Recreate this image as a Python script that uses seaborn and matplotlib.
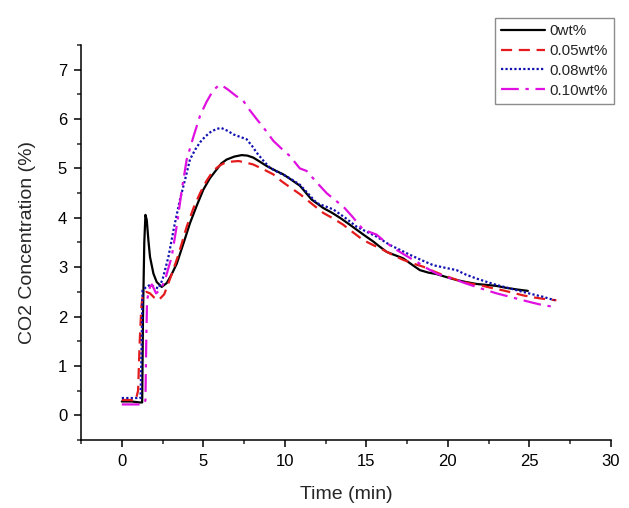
import matplotlib
matplotlib.use("Agg")
import matplotlib.pyplot as plt
import seaborn as sns
import pandas as pd
from matplotlib.ticker import MultipleLocator

sns.set_theme(style="ticks")
plt.rcParams['font.family'] = ['Liberation Sans', 'DejaVu Sans']

labels = ["0wt%", "0.05wt%", "0.08wt%", "0.10wt%"]

t_0 = [0, 0.6, 1.1, 1.25, 1.3, 1.38, 1.45, 1.53, 1.63, 1.73, 1.94, 2.14, 2.45, 2.76, 3.05, 3.37,
       3.8, 4.18, 4.6, 5.0, 5.4, 5.82, 6.1, 6.43, 6.9, 7.35, 7.7, 8.06, 8.5, 8.88, 9.4, 9.9,
       10.31, 10.92, 11.13, 11.64, 12.35, 12.9, 13.38, 13.9, 14.4, 14.9, 15.42, 15.8, 16.24,
       16.7, 17.25, 17.8, 18.28, 18.8, 19.3, 19.9, 20.53, 21.1, 21.75, 22.4, 22.98, 23.6, 24.2, 24.9]
c_0 = [0.28, 0.28, 0.26, 0.26, 2.0, 3.5, 4.06, 3.96, 3.55, 3.21, 2.87, 2.70, 2.60, 2.68, 2.85, 3.07,
       3.5, 3.89, 4.25, 4.57, 4.80, 4.98, 5.10, 5.18, 5.24, 5.27, 5.26, 5.22, 5.13, 5.05, 4.96, 4.88,
       4.79, 4.65, 4.57, 4.37, 4.2, 4.1, 4.0, 3.88, 3.76, 3.64, 3.52, 3.42, 3.31,
       3.25, 3.18, 3.05, 2.94, 2.89, 2.86, 2.80, 2.74, 2.70, 2.66, 2.64, 2.62, 2.58, 2.55, 2.52]

t_005 = [0, 0.5, 0.85, 1.0, 1.1, 1.2, 1.3, 1.5, 1.73, 2.0, 2.25, 2.6, 3.0, 3.47, 3.98, 4.4, 4.8,
         5.2, 5.6, 6.0, 6.43, 7.15, 7.6, 8.06, 8.7, 9.29, 9.8, 10.31, 10.92, 11.33, 12.35, 13.0,
         13.58, 14.2, 14.8, 15.4, 16.03, 16.6, 17.25, 17.9, 18.48, 19.1, 19.7, 20.3, 20.93, 21.5,
         22.16, 22.8, 23.38, 24.0, 24.6, 25.2, 25.83, 26.65]
c_005 = [0.31, 0.31, 0.30, 0.5, 1.5, 2.2, 2.47, 2.5, 2.47, 2.38, 2.33, 2.45, 2.8, 3.25, 3.82, 4.2, 4.5,
         4.75, 4.95, 5.06, 5.13, 5.15, 5.12, 5.08, 4.98, 4.88, 4.74, 4.62, 4.48, 4.37, 4.1, 3.98,
         3.86, 3.7, 3.55, 3.45, 3.35, 3.25, 3.15, 3.07, 3.01, 2.92, 2.84, 2.77, 2.7, 2.66,
         2.62, 2.57, 2.53, 2.48, 2.43, 2.39, 2.36, 2.33]

t_008 = [0, 0.6, 1.15, 1.22, 1.27, 1.5, 1.73, 2.0, 2.25, 2.5, 2.86, 3.2, 3.57, 3.9, 4.18, 4.5, 4.8,
         5.1, 5.41, 5.8, 6.1, 6.5, 6.84, 7.25, 7.66, 8.0, 8.27, 8.7, 9.09, 9.6, 10.1, 10.5, 10.92,
         11.4, 11.95, 12.97, 13.7, 14.4, 15.0, 15.62, 16.44, 17.0, 17.67, 18.4, 19.1, 19.8, 20.53,
         21.1, 21.75, 22.4, 22.98, 23.8, 24.6, 25.2, 25.83, 26.55]
c_008 = [0.35, 0.35, 0.35, 1.5, 2.53, 2.6, 2.64, 2.6, 2.57, 2.75, 3.21, 3.8, 4.37, 4.8, 5.18, 5.38, 5.53,
         5.64, 5.73, 5.8, 5.82, 5.76, 5.69, 5.64, 5.59, 5.45, 5.32, 5.15, 5.01, 4.92, 4.84, 4.76, 4.67,
         4.5, 4.3, 4.17, 4.0, 3.82, 3.72, 3.62, 3.45, 3.36, 3.25, 3.14, 3.04, 2.99, 2.94,
         2.85, 2.77, 2.7, 2.64, 2.57, 2.5, 2.45, 2.4, 2.33]

t_010 = [0, 0.6, 1.3, 1.45, 1.5, 1.55, 1.73, 1.85, 2.1, 2.4, 2.7, 3.06, 3.4, 3.68, 3.98, 4.4, 4.8,
         5.2, 5.6, 5.9, 6.1, 6.5, 7.0, 7.45, 7.8, 8.27, 8.8, 9.29, 9.8, 10.31, 10.92, 11.33, 12.0,
         12.56, 13.0, 13.58, 14.2, 14.8, 15.62, 16.2, 16.85, 17.5, 18.08, 18.7, 19.3, 19.9, 20.53,
         21.1, 21.75, 22.4, 22.98, 23.8, 24.6, 25.2, 25.83, 26.65]
c_010 = [0.22, 0.22, 0.22, 0.3, 1.5, 2.33, 2.6, 2.65, 2.47, 2.55, 2.8, 3.21, 3.9, 4.57, 5.18, 5.65, 6.07,
         6.35, 6.58, 6.67, 6.69, 6.6, 6.47, 6.37, 6.2, 6.0, 5.78, 5.56, 5.4, 5.25, 5.0, 4.95, 4.7,
         4.5, 4.38, 4.23, 4.0, 3.76, 3.66, 3.5, 3.35, 3.22, 3.11, 2.98, 2.87, 2.8, 2.74,
         2.67, 2.6, 2.53, 2.47, 2.4, 2.33, 2.28, 2.23, 2.19]

series = [(t_0, c_0), (t_005, c_005), (t_008, c_008), (t_010, c_010)]
colors = ["black", "#e41a1c", "#1010b0", "#e010e0"]
dash_styles = [(None, None), (5, 3), (1, 1), (8, 3, 1.5, 3)]

fig = plt.figure(figsize=(6.29, 5.08), dpi=100)
ax = fig.add_axes([0.1288, 0.1339, 0.8426, 0.7775])

for (t, c), lab, col, ds in zip(series, labels, colors, dash_styles):
    df = pd.DataFrame({"t": t, "c": c})
    sns.lineplot(data=df, x="t", y="c", ax=ax, color=col, label=lab, lw=1.6,
                 estimator=None, sort=False)
    line = ax.get_lines()[-1]
    if ds[0] is not None:
        line.set_dashes(ds)

ax.set_xlim(-2.5, 30)
ax.set_ylim(-0.5, 7.5)
ax.xaxis.set_major_locator(MultipleLocator(5))
ax.xaxis.set_minor_locator(MultipleLocator(2.5))
ax.yaxis.set_major_locator(MultipleLocator(1))
ax.yaxis.set_minor_locator(MultipleLocator(0.5))
ax.spines['top'].set_visible(False)
ax.spines['right'].set_visible(False)
for s in ['left', 'bottom']:
    ax.spines[s].set_linewidth(1.1)
    ax.spines[s].set_color('black')
ax.tick_params(which='major', direction='out', length=5, width=1.1, labelsize=12,
               colors='black', pad=5)
ax.tick_params(which='minor', direction='out', length=3, width=1.1)
ax.set_xlabel("Time (min)", fontsize=14, labelpad=12)
ax.set_ylabel("CO2 Concentration (%)", fontsize=14, labelpad=16)

leg = ax.legend(loc='upper right', bbox_to_anchor=(614 / 629, 1 - 18 / 508),
                bbox_transform=fig.transFigure, fontsize=11, frameon=True,
                fancybox=False, edgecolor='#707070', handlelength=2.9,
                borderpad=0.4, labelspacing=0.38, handletextpad=0.3, borderaxespad=0)
leg.get_frame().set_linewidth(1.0)

fig.savefig("out.png", dpi=100)
